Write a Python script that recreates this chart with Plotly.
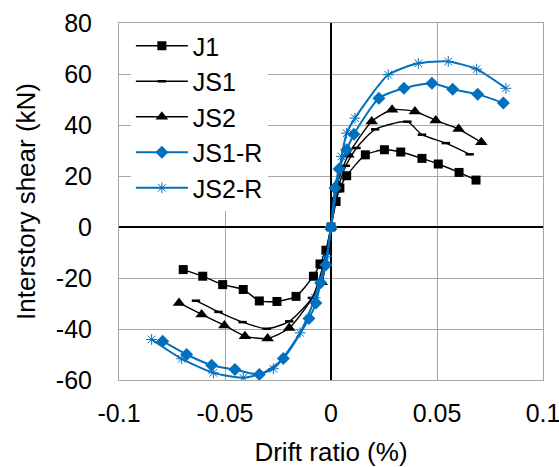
import plotly.graph_objects as go

# drift ratio (%) and interstory shear (kN)
j1_x = [-0.0697, -0.0605, -0.0511, -0.0414, -0.0338, -0.0255, -0.0165, -0.0083, -0.0052, -0.0024, 0,
        0.0024, 0.0042, 0.0074, 0.0162, 0.0252, 0.0329, 0.0429, 0.0506, 0.0604, 0.0684]
j1_y = [-16.7, -19.3, -22.6, -24.5, -29.0, -29.2, -27.2, -19.3, -14.5, -9.1, 0,
        10.0, 15.3, 20.1, 28.3, 30.3, 29.4, 26.9, 24.7, 21.4, 18.4]

js1_x = [-0.0637, -0.0531, -0.0417, -0.0303, -0.0197, -0.009, -0.004, 0,
         0.003, 0.007, 0.012, 0.0208, 0.036, 0.0429, 0.0542, 0.0654]
js1_y = [-28.9, -33.3, -37.3, -39.9, -37.0, -27.8, -16.0, 0,
         14.0, 24.0, 31.0, 38.3, 41.3, 36.2, 32.9, 28.5]

js2_x = [-0.0717, -0.061, -0.0503, -0.0406, -0.0299, -0.0197, -0.0044, 0,
         0.003, 0.0082, 0.0192, 0.0288, 0.0396, 0.0494, 0.0602, 0.0709]
js2_y = [-29.8, -34.3, -38.6, -42.8, -43.7, -39.6, -21.7, 0,
         17.0, 28.3, 41.4, 46.0, 45.3, 41.8, 38.4, 33.2]

js1r_x = [-0.0794, -0.0681, -0.0563, -0.0453, -0.0338, -0.0225, -0.0104, -0.0071, -0.0049, -0.0024, 0,
          0.0019, 0.0038, 0.0074, 0.0108, 0.0226, 0.0344, 0.0476, 0.0574, 0.0692, 0.0813]
js1r_y = [-44.8, -50.0, -54.2, -55.9, -57.8, -51.6, -35.9, -29.8, -21.9, -14.8, 0,
          15.3, 22.7, 30.3, 36.4, 50.5, 54.4, 56.4, 54.0, 52.1, 48.6]

js2r_x = [-0.0846, -0.0704, -0.0555, -0.0414, -0.0272, -0.0146, -0.0075, -0.002, 0,
          0.005, 0.0074, 0.0113, 0.027, 0.0412, 0.0553, 0.0687, 0.0825]
js2r_y = [-44.1, -51.7, -57.2, -59.1, -55.6, -41.5, -27.8, -11.5, 0,
          27.7, 36.8, 42.7, 59.7, 64.2, 64.9, 61.9, 54.4]

x_ticks = [-0.1, -0.05, 0, 0.05, 0.1]
x_labels = ["-0.1", "-0.05", "0", "0.05", "0.1"]
y_ticks = [-60, -40, -20, 0, 20, 40, 60, 80]
y_labels = ["-60", "-40", "-20", "0", "20", "40", "60", "80"]

blue = "#0070C0"
fig = go.Figure()

fig.add_trace(go.Scatter(x=j1_x, y=j1_y, name="J1", mode="lines+markers",
                         line=dict(color="black", width=1.4, shape="spline", smoothing=0.6),
                         marker=dict(symbol="square", size=9, color="black")))
fig.add_trace(go.Scatter(x=js1_x, y=js1_y, name="JS1", mode="lines+markers",
                         line=dict(color="black", width=1.4, shape="spline", smoothing=0.6),
                         marker=dict(symbol="line-ew", size=6, line=dict(color="black", width=2.5))))
fig.add_trace(go.Scatter(x=js2_x, y=js2_y, name="JS2", mode="lines+markers",
                         line=dict(color="black", width=1.4, shape="spline", smoothing=0.6),
                         marker=dict(symbol="triangle-up", size=11, color="black")))
fig.add_trace(go.Scatter(x=js1r_x, y=js1r_y, name="JS1-R", mode="lines+markers",
                         line=dict(color=blue, width=2, shape="spline", smoothing=0.6),
                         marker=dict(symbol="diamond", size=10, color=blue)))
fig.add_trace(go.Scatter(x=js2r_x, y=js2r_y, name="JS2-R", mode="lines+markers",
                         line=dict(color=blue, width=2, shape="spline", smoothing=0.6),
                         marker=dict(symbol="asterisk-open", size=9, line=dict(color="#8cc0ea", width=1))))

fig.update_layout(
    width=559,
    height=467,
    paper_bgcolor="white",
    plot_bgcolor="white",
    font=dict(family="Liberation Sans, Arial, sans-serif", size=25, color="black"),
    margin=dict(l=119, r=16, t=23, b=87),
    showlegend=True,
    legend=dict(
        x=0.028, y=1.0, xanchor="left", yanchor="top",
        bgcolor="white",
        font=dict(size=25),
        itemwidth=52,
        tracegroupgap=0,
    ),
)

fig.update_xaxes(
    range=[-0.1, 0.1],
    tickvals=x_ticks,
    ticktext=x_labels,
    automargin=False,
    ticklabeloverflow="allow",
    showgrid=True, gridcolor="#a6a6a6", gridwidth=1,
    zeroline=True, zerolinecolor="black", zerolinewidth=2,
    showline=True, linecolor="#a6a6a6", linewidth=1, mirror=True,
    ticks="", ticklen=0, ticklabelstandoff=11,
    title=dict(text="Drift ratio (%)", font=dict(size=26), standoff=20),
)

fig.update_yaxes(
    range=[-60, 80],
    tickvals=y_ticks,
    ticktext=y_labels,
    automargin=False,
    ticklabeloverflow="allow",
    showgrid=True, gridcolor="#a6a6a6", gridwidth=1,
    zeroline=True, zerolinecolor="black", zerolinewidth=2,
    showline=True, linecolor="#a6a6a6", linewidth=1, mirror=True,
    ticks="", ticklen=0, ticklabelstandoff=21,
    title=dict(text="Interstory shear (kN)", font=dict(size=26), standoff=12),
)

# the page body has a default 8px margin; drop it so the figure fills the window
fig.write_html("out.html", config={"displayModeBar": False},
               post_script="document.body.style.margin = '0';")
